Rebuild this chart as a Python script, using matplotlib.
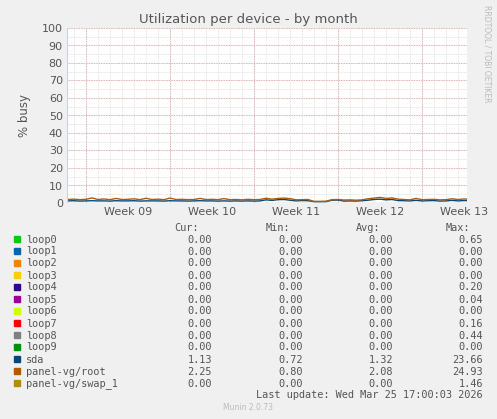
"""Munin-style chart: disk utilization per device, by month."""

import matplotlib

matplotlib.use("Agg")
import matplotlib.pyplot as plt  # noqa: E402
import numpy as np  # noqa: E402

# legend table
names = ["loop0", "loop1", "loop2", "loop3", "loop4", "loop5", "loop6", "loop7",
         "loop8", "loop9", "sda", "panel-vg/root", "panel-vg/swap_1"]
colors = ["#00CC00", "#0066B3", "#FF8000", "#FFCC00", "#330099", "#990099", "#CCFF00",
          "#FF0000", "#808080", "#008F00", "#00487D", "#B35A00", "#B38F00"]
cur = [0, 0, 0, 0, 0, 0, 0, 0, 0, 0, 1.13, 2.25, 0]
mins = [0, 0, 0, 0, 0, 0, 0, 0, 0, 0, 0.72, 0.80, 0]
avgs = [0, 0, 0, 0, 0, 0, 0, 0, 0, 0, 1.32, 2.08, 0]
maxs = [0.65, 0, 0, 0, 0.20, 0.04, 0, 0.16, 0.44, 0, 23.66, 24.93, 1.46]

# series, one sample every half day starting at day -1.5 (day 0 = start of week 09)
root = [2.0, 2.2, 1.9, 2.1, 2.9, 2.0, 2.3, 1.9, 2.6, 2.0, 2.1, 2.4, 1.9, 2.7, 2.0, 2.2,
        1.9, 2.8, 2.0, 2.1, 1.9, 2.0, 2.6, 2.0, 2.1, 1.9, 2.5, 1.9, 2.0, 1.8, 2.1, 1.9,
        2.0, 2.7, 2.2, 2.6, 2.8, 2.5, 1.8, 1.9, 2.0, 0.9, 0.9, 1.0, 1.9, 2.0, 1.7, 1.8,
        1.6, 1.8, 2.4, 2.8, 3.2, 2.6, 2.9, 2.2, 2.0, 1.8, 2.6, 1.9, 2.0, 2.1, 1.8, 1.9,
        2.4, 2.0, 2.3, 2.1]
sda = [1.2, 1.3, 1.1, 1.2, 1.3, 1.2, 1.2, 1.1, 1.3, 1.2, 1.2, 1.3, 1.1, 1.2, 1.2, 1.2,
       1.1, 1.3, 1.2, 1.2, 1.1, 1.2, 1.3, 1.2, 1.2, 1.1, 1.2, 1.1, 1.2, 1.1, 1.2, 1.1,
       1.2, 1.8, 1.5, 1.9, 2.0, 1.6, 1.2, 1.4, 1.3, 0.8, 0.8, 0.8, 1.6, 1.7, 1.1, 1.2,
       1.1, 1.3, 1.6, 2.0, 2.2, 1.8, 2.0, 1.4, 1.3, 1.2, 1.5, 1.2, 1.3, 1.4, 1.1, 1.2,
       1.5, 1.2, 1.4, 1.3]
week_labels = ["Week 09", "Week 10", "Week 11", "Week 12", "Week 13"]

BG = "#F0F0F0"
TXT = "#555555"
MONO = "DejaVu Sans Mono"

fig = plt.figure(figsize=(4.97, 4.19), dpi=100, facecolor=BG)
ax = fig.add_axes([67 / 497, 1 - 203 / 419, 400 / 497, 175 / 419], facecolor="white")

t = -1.5 + 0.5 * np.arange(len(root))
ax.plot(t, sda, color=colors[10], lw=1)
ax.plot(t, root, color=colors[11], lw=1)
zero = np.zeros_like(t)
for c in colors[:10] + [colors[12]]:
    ax.plot(t, zero, color=c, lw=0.6)

ax.set_xlim(-1.58, 31.75)
ax.set_ylim(0, 100)
# grid: grey dotted per day / 5%, red dotted per week / 10%
for d in np.arange(-1, 32):
    ax.axvline(d, color="#DDDDDD", lw=0.6, ls=(0, (1, 1)), zorder=0)
for v in np.arange(5, 101, 5):
    ax.axhline(v, color="#DDDDDD", lw=0.6, ls=(0, (1, 1)), zorder=0)
for d in [0, 7, 14, 21, 28]:
    ax.axvline(d, color="#E8A0A0", lw=0.6, ls=(0, (1, 1)), zorder=0)
for v in np.arange(10, 101, 10):
    ax.axhline(v, color="#E8A0A0", lw=0.6, ls=(0, (1, 1)), zorder=0)

ax.set_yticks(np.arange(0, 101, 10))
ax.set_xticks([3.5, 10.5, 17.5, 24.5, 31.5])
ax.set_xticklabels(week_labels)
ax.tick_params(length=0, labelsize=8, colors=TXT, pad=3)
for s in ax.spines.values():
    s.set_visible(False)
ax.axhline(0, color="black", lw=0.8)
ax.axvline(-1.58, color="#C8D0F0", lw=0.8)
ax.set_ylabel("% busy", color=TXT, fontsize=8.5, labelpad=8)

fig.text(0.5, 1 - 19 / 419, "Utilization per device - by month", ha="center", va="center",
         fontsize=9.5, color=TXT)
fig.text(487 / 497, 1 - 5 / 419, "RRDTOOL / TOBI OETIKER", rotation=270, ha="center",
         va="top", fontsize=5.5, color="#BBBBBB")

# legend table
fs = 7.4
hy = 1 - 228 / 419
for x, h in zip([199, 290, 380, 470], ["Cur:", "Min:", "Avg:", "Max:"]):
    fig.text(x / 497, hy, h, ha="right", va="center", family=MONO, fontsize=fs, color=TXT)
for i, n in enumerate(names):
    y = 1 - (239.5 + 12 * i) / 419
    fig.patches.append(plt.Rectangle((14 / 497, y - 2.5 / 419), 6 / 497, 6 / 419,
                                     transform=fig.transFigure, color=colors[i]))
    fig.text(26 / 497, y, n, ha="left", va="center", family=MONO, fontsize=fs, color=TXT)
    for x, v in zip([212, 303, 393, 483], [cur[i], mins[i], avgs[i], maxs[i]]):
        fig.text(x / 497, y, f"{v:.2f}", ha="right", va="center", family=MONO,
                 fontsize=fs, color=TXT)
fig.text(483 / 497, 1 - 395 / 419, "Last update: Wed Mar 25 17:00:03 2026", ha="right",
         va="center", family=MONO, fontsize=fs, color=TXT)
fig.text(248 / 497, 1 - 407 / 419, "Munin 2.0.73", ha="center", va="center",
         fontsize=5.5, color="#BBBBBB")

fig.savefig("out.png", dpi=100, facecolor=BG)
